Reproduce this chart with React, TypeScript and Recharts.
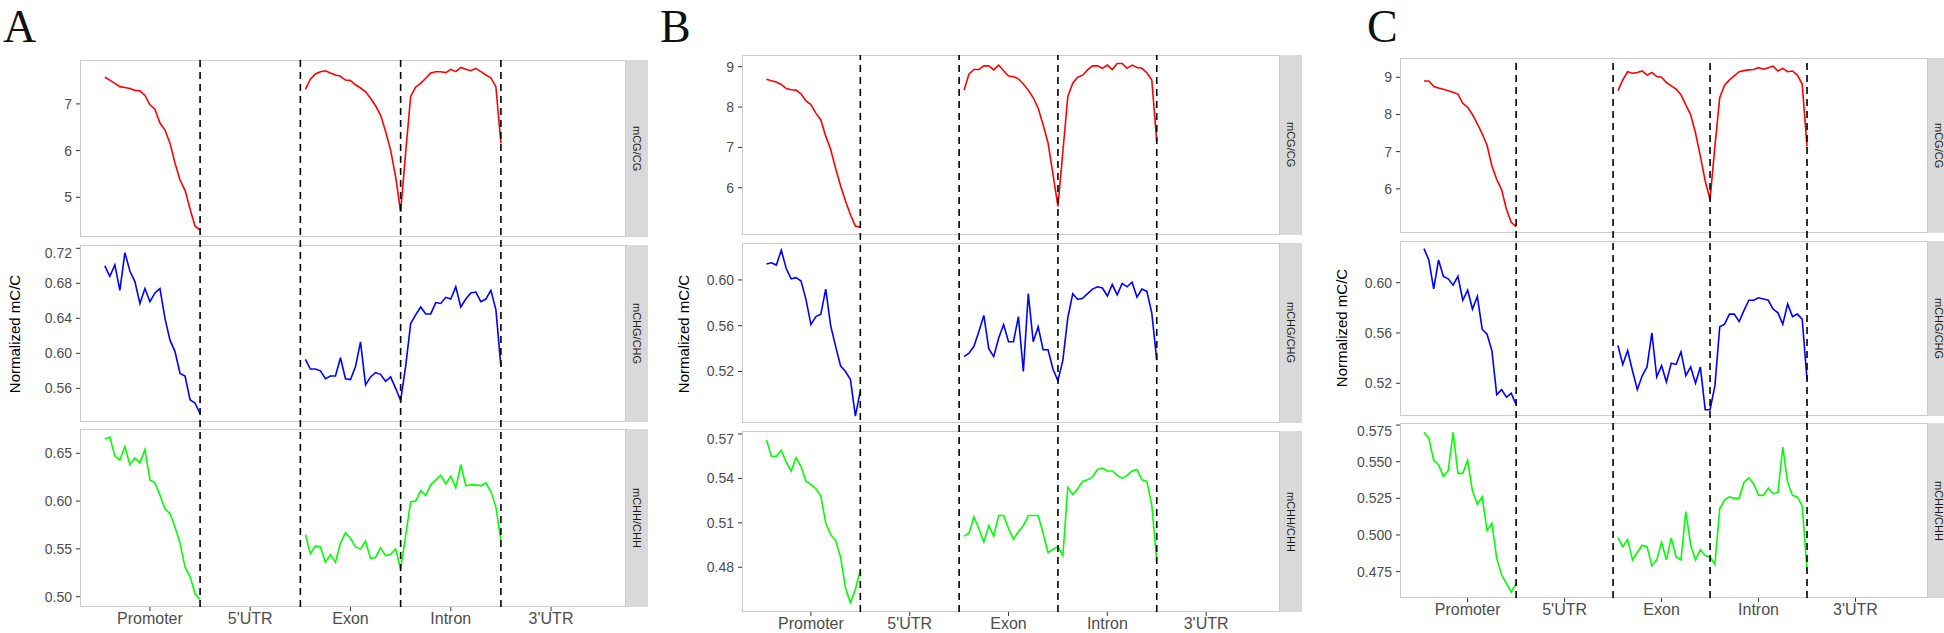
import React from 'react';
import { LineChart, Line, XAxis, YAxis, ReferenceLine } from 'recharts';

// gene regions, 20 bins each (5'UTR and 3'UTR have no data)
const regions = ['Promoter', "5'UTR", 'Exon', 'Intron', "3'UTR"];
const regionTicks = [10, 30, 50, 70, 90];
const boundaries = [20, 40, 60, 80];
const xDomain = [-3.95, 104.95];

// ---- A ----
const aCgPromoter = [7.57, 7.51, 7.44, 7.37, 7.35, 7.33, 7.29, 7.28, 7.18, 6.98, 6.88, 6.59, 6.44, 6.16, 5.73, 5.37, 5.15, 4.75, 4.38, 4.3];
const aCgExon = [7.31, 7.53, 7.64, 7.69, 7.71, 7.66, 7.62, 7.59, 7.51, 7.5, 7.41, 7.34, 7.26, 7.12, 6.96, 6.76, 6.41, 6.01, 5.44, 4.69];
const aCgIntron = [5.95, 7.16, 7.36, 7.44, 7.55, 7.66, 7.69, 7.69, 7.67, 7.74, 7.69, 7.78, 7.74, 7.71, 7.76, 7.69, 7.62, 7.56, 7.37, 6.16];
const aChgPromoter = [0.7, 0.688, 0.701, 0.672, 0.715, 0.694, 0.682, 0.657, 0.674, 0.659, 0.669, 0.674, 0.64, 0.615, 0.602, 0.577, 0.574, 0.547, 0.543, 0.531];
const aChgExon = [0.593, 0.582, 0.582, 0.58, 0.571, 0.574, 0.574, 0.595, 0.571, 0.57, 0.585, 0.613, 0.564, 0.573, 0.578, 0.576, 0.568, 0.573, 0.56, 0.546];
const aChgIntron = [0.585, 0.634, 0.644, 0.653, 0.645, 0.645, 0.658, 0.657, 0.664, 0.662, 0.676, 0.653, 0.662, 0.669, 0.67, 0.659, 0.662, 0.672, 0.65, 0.585];
const aChhPromoter = [0.665, 0.667, 0.647, 0.643, 0.657, 0.638, 0.645, 0.64, 0.654, 0.622, 0.619, 0.606, 0.592, 0.587, 0.573, 0.556, 0.531, 0.521, 0.503, 0.497];
const aChhExon = [0.565, 0.545, 0.553, 0.552, 0.536, 0.544, 0.536, 0.556, 0.567, 0.561, 0.552, 0.55, 0.558, 0.54, 0.541, 0.551, 0.543, 0.544, 0.55, 0.529];
const aChhIntron = [0.564, 0.599, 0.6, 0.611, 0.606, 0.617, 0.622, 0.627, 0.618, 0.626, 0.614, 0.638, 0.616, 0.617, 0.617, 0.616, 0.619, 0.61, 0.594, 0.558];

// ---- B ----
const bCgPromoter = [8.69, 8.65, 8.62, 8.56, 8.46, 8.43, 8.42, 8.33, 8.15, 8.06, 7.85, 7.68, 7.28, 6.95, 6.48, 6.05, 5.67, 5.33, 5.05, 5.02];
const bCgExon = [8.42, 8.82, 8.93, 8.93, 9.02, 9.02, 8.92, 9.04, 8.9, 8.77, 8.75, 8.7, 8.57, 8.42, 8.23, 7.97, 7.56, 7.11, 6.33, 5.54];
const bCgIntron = [6.9, 8.26, 8.59, 8.74, 8.79, 8.92, 9.02, 9.02, 8.96, 9.04, 8.93, 9.08, 9.08, 8.96, 9.04, 8.98, 8.96, 8.85, 8.67, 7.15];
const bChgPromoter = [0.614, 0.615, 0.613, 0.626, 0.61, 0.601, 0.602, 0.599, 0.583, 0.561, 0.568, 0.57, 0.592, 0.56, 0.542, 0.525, 0.52, 0.513, 0.481, 0.503];
const bChgExon = [0.533, 0.536, 0.542, 0.555, 0.569, 0.54, 0.533, 0.549, 0.561, 0.546, 0.546, 0.568, 0.52, 0.588, 0.546, 0.559, 0.539, 0.539, 0.522, 0.512];
const bChgIntron = [0.53, 0.567, 0.588, 0.583, 0.584, 0.588, 0.592, 0.594, 0.593, 0.586, 0.596, 0.587, 0.597, 0.594, 0.598, 0.585, 0.592, 0.59, 0.571, 0.53];
const bChhPromoter = [0.566, 0.555, 0.555, 0.559, 0.551, 0.545, 0.554, 0.548, 0.538, 0.536, 0.533, 0.528, 0.51, 0.502, 0.498, 0.487, 0.466, 0.456, 0.465, 0.478];
const bChhExon = [0.501, 0.503, 0.514, 0.506, 0.497, 0.508, 0.501, 0.515, 0.515, 0.506, 0.499, 0.504, 0.508, 0.515, 0.515, 0.515, 0.503, 0.49, 0.492, 0.494];
const bChhIntron = [0.488, 0.534, 0.529, 0.533, 0.538, 0.539, 0.541, 0.546, 0.547, 0.545, 0.545, 0.542, 0.54, 0.542, 0.545, 0.546, 0.539, 0.538, 0.522, 0.484];

// ---- C ----
const cCgPromoter = [8.9, 8.9, 8.75, 8.71, 8.68, 8.64, 8.6, 8.55, 8.3, 8.19, 8.0, 7.75, 7.48, 7.17, 6.62, 6.25, 5.98, 5.45, 5.1, 4.98];
const cCgExon = [8.64, 8.93, 9.15, 9.11, 9.13, 9.17, 9.06, 9.13, 9.02, 9.0, 8.86, 8.77, 8.68, 8.53, 8.26, 7.99, 7.5, 6.88, 6.21, 5.71];
const cCgIntron = [7.14, 8.46, 8.79, 8.93, 9.04, 9.15, 9.18, 9.2, 9.21, 9.26, 9.22, 9.26, 9.3, 9.17, 9.24, 9.15, 9.17, 9.06, 8.82, 7.14];
const cChgPromoter = [0.627, 0.618, 0.595, 0.618, 0.605, 0.603, 0.598, 0.605, 0.586, 0.594, 0.579, 0.589, 0.563, 0.559, 0.546, 0.511, 0.515, 0.509, 0.512, 0.503];
const cChgExon = [0.55, 0.535, 0.546, 0.53, 0.515, 0.526, 0.533, 0.56, 0.525, 0.534, 0.521, 0.536, 0.535, 0.545, 0.526, 0.533, 0.52, 0.533, 0.499, 0.499];
const cChgIntron = [0.518, 0.565, 0.567, 0.575, 0.575, 0.569, 0.578, 0.586, 0.586, 0.588, 0.587, 0.586, 0.579, 0.576, 0.567, 0.583, 0.573, 0.575, 0.571, 0.523];
const cChhPromoter = [0.57, 0.566, 0.551, 0.548, 0.54, 0.544, 0.57, 0.542, 0.542, 0.551, 0.53, 0.521, 0.526, 0.503, 0.508, 0.484, 0.473, 0.467, 0.461, 0.467];
const cChhExon = [0.498, 0.492, 0.497, 0.483, 0.488, 0.493, 0.492, 0.479, 0.483, 0.495, 0.483, 0.498, 0.485, 0.483, 0.516, 0.493, 0.483, 0.49, 0.486, 0.485];
const cChhIntron = [0.48, 0.518, 0.524, 0.526, 0.525, 0.525, 0.536, 0.539, 0.535, 0.527, 0.527, 0.532, 0.528, 0.529, 0.56, 0.536, 0.527, 0.526, 0.52, 0.476];

const buildRows = (promoter: number[], exon: number[], intron: number[]) => {
  const rows: { u: number; v: number | null }[] = [];
  for (let u = 1; u <= 100; u++) {
    let v: number | null = null;
    if (u <= 20) v = promoter[u - 1];
    else if (u > 40 && u <= 60) v = exon[u - 41];
    else if (u > 60 && u <= 80) v = intron[u - 61];
    rows.push({ u, v });
  }
  return rows;
};

const AXIS_W = 60;
const X_AXIS_H = 21;
const tickStyle = { fill: '#4d4d4d', fontSize: 14 };

type FacetProps = {
  left: number;
  right: number;
  top: number;
  bottom: number;
  rows: { u: number; v: number | null }[];
  color: string;
  domain: number[];
  ticks: number[];
  digits: number;
  label: string;
  showX: boolean;
};

const Facet = ({ left, right, top, bottom, rows, color, domain, ticks, digits, label, showX }: FacetProps) => {
  const w = right - left;
  const h = bottom - top;
  return (
    <>
      <div
        style={{
          position: 'absolute', left, top, width: w, height: h,
          border: '1px solid #cccccc', boxSizing: 'border-box', background: '#fff',
        }}
      />
      <div
        style={{
          position: 'absolute', left: right, top, width: 22, height: h, background: '#d9d9d9',
          display: 'flex', alignItems: 'center', justifyContent: 'center',
        }}
      >
        <span style={{ writingMode: 'vertical-rl', fontSize: 11, color: '#1a1a1a' }}>{label}</span>
      </div>
      <div style={{ position: 'absolute', left: left - AXIS_W, top }}>
        <LineChart
          width={w + AXIS_W}
          height={h + (showX ? X_AXIS_H : 0)}
          data={rows}
          margin={{ top: 0, right: 0, bottom: 0, left: 0 }}
        >
          <XAxis
            dataKey="u"
            type="number"
            domain={xDomain}
            ticks={regionTicks}
            tickFormatter={(t: number) => regions[regionTicks.indexOf(t)]}
            hide={!showX}
            height={X_AXIS_H}
            axisLine={false}
            tickSize={4}
            tickMargin={2}
            tick={{ fill: '#4d4d4d', fontSize: 16 }}
            tickLine={{ stroke: '#333' }}
            allowDataOverflow
          />
          <YAxis
            type="number"
            width={AXIS_W}
            domain={domain}
            ticks={ticks}
            tickFormatter={(t: number) => t.toFixed(digits)}
            axisLine={false}
            tickSize={4}
            tickMargin={4}
            tick={tickStyle}
            tickLine={{ stroke: '#333' }}
            allowDataOverflow
          />
          <Line
            dataKey="v"
            stroke={color}
            strokeWidth={1.6}
            dot={false}
            connectNulls={false}
            isAnimationActive={false}
          />
        </LineChart>
      </div>
    </>
  );
};

type PanelProps = {
  letter: string;
  letterX: number;
  titleX: number;
  left: number;
  right: number;
  facets: number[][];
  cg: number[][];
  chg: number[][];
  chh: number[][];
  domains: number[][];
  ticks: number[][];
  digits: number[];
};

const labels = ['mCG/CG', 'mCHG/CHG', 'mCHH/CHH'];
const colors = ['#ff0000', '#0000ff', '#00ff00'];

const Panel = (p: PanelProps) => {
  const series = [p.cg, p.chg, p.chh];
  const top = p.facets[0][0];
  const bottom = p.facets[2][1];
  return (
    <>
      <div
        style={{
          position: 'absolute', left: p.letterX, top: 0, fontSize: 46, lineHeight: 'normal',
          fontFamily: '"Liberation Serif", serif', color: '#111',
        }}
      >
        {p.letter}
      </div>
      <div
        style={{
          position: 'absolute', left: p.titleX, top: (top + bottom) / 2, fontSize: 15,
          transform: 'translate(-50%, -50%) rotate(-90deg)', whiteSpace: 'nowrap', color: '#000',
        }}
      >
        Normalized mC/C
      </div>
      {series.map((s, i) => (
        <Facet
          key={labels[i]}
          left={p.left}
          right={p.right}
          top={p.facets[i][0]}
          bottom={p.facets[i][1]}
          rows={buildRows(s[0], s[1], s[2])}
          color={colors[i]}
          domain={p.domains[i]}
          ticks={p.ticks[i]}
          digits={p.digits[i]}
          label={labels[i]}
          showX={i === 2}
        />
      ))}
      {/* region boundaries drawn through all three facets */}
      <div style={{ position: 'absolute', left: p.left - AXIS_W, top, pointerEvents: 'none' }}>
        <LineChart
          width={p.right - p.left + AXIS_W}
          height={bottom - top}
          data={buildRows(p.cg[0], p.cg[1], p.cg[2])}
          margin={{ top: 0, right: 0, bottom: 0, left: AXIS_W }}
        >
          <XAxis dataKey="u" type="number" domain={xDomain} hide allowDataOverflow />
          <YAxis type="number" domain={p.domains[0]} hide allowDataOverflow />
          <Line dataKey="v" stroke="none" dot={false} isAnimationActive={false} />
          {boundaries.map((b) => (
            <ReferenceLine key={b} x={b} stroke="#000" strokeWidth={1.6} strokeDasharray="7 5" />
          ))}
        </LineChart>
      </div>
    </>
  );
};

export default function App() {
  return (
    <div
      style={{
        position: 'absolute', left: 0, top: 0, width: 1944, height: 633, overflow: 'hidden',
        background: '#fff', fontFamily: '"Liberation Sans", Arial, sans-serif',
      }}
    >
      <Panel
        letter="A"
        letterX={3}
        titleX={14}
        left={80}
        right={626}
        facets={[[60, 237], [245, 422], [429, 607]]}
        cg={[aCgPromoter, aCgExon, aCgIntron]}
        chg={[aChgPromoter, aChgExon, aChgIntron]}
        chh={[aChhPromoter, aChhExon, aChhIntron]}
        domains={[[4.15, 7.94], [0.5215, 0.7238], [0.4892, 0.6754]]}
        ticks={[[5, 6, 7], [0.56, 0.6, 0.64, 0.68, 0.72], [0.5, 0.55, 0.6, 0.65]]}
        digits={[0, 2, 2]}
      />
      <Panel
        letter="B"
        letterX={660}
        titleX={683}
        left={742}
        right={1280}
        facets={[[55, 235], [243, 423], [431, 612]]}
        cg={[bCgPromoter, bCgExon, bCgIntron]}
        chg={[bChgPromoter, bChgExon, bChgIntron]}
        chh={[bChhPromoter, bChhExon, bChhIntron]}
        domains={[[4.83, 9.29], [0.475, 0.6323], [0.4498, 0.572]]}
        ticks={[[5, 6, 7, 8, 9], [0.48, 0.52, 0.56, 0.6], [0.48, 0.51, 0.54, 0.57]]}
        digits={[0, 2, 2]}
      />
      <Panel
        letter="C"
        letterX={1367}
        titleX={1341}
        left={1400}
        right={1928}
        facets={[[58, 233], [241, 416], [423, 598]]}
        cg={[cCgPromoter, cCgExon, cCgIntron]}
        chg={[cChgPromoter, cChgExon, cChgIntron]}
        chh={[cChhPromoter, cChhExon, cChhIntron]}
        domains={[[4.81, 9.52], [0.494, 0.6331], [0.457, 0.5764]]}
        ticks={[[5, 6, 7, 8, 9], [0.52, 0.56, 0.6], [0.475, 0.5, 0.525, 0.55, 0.575]]}
        digits={[0, 2, 3]}
      />
    </div>
  );
}
